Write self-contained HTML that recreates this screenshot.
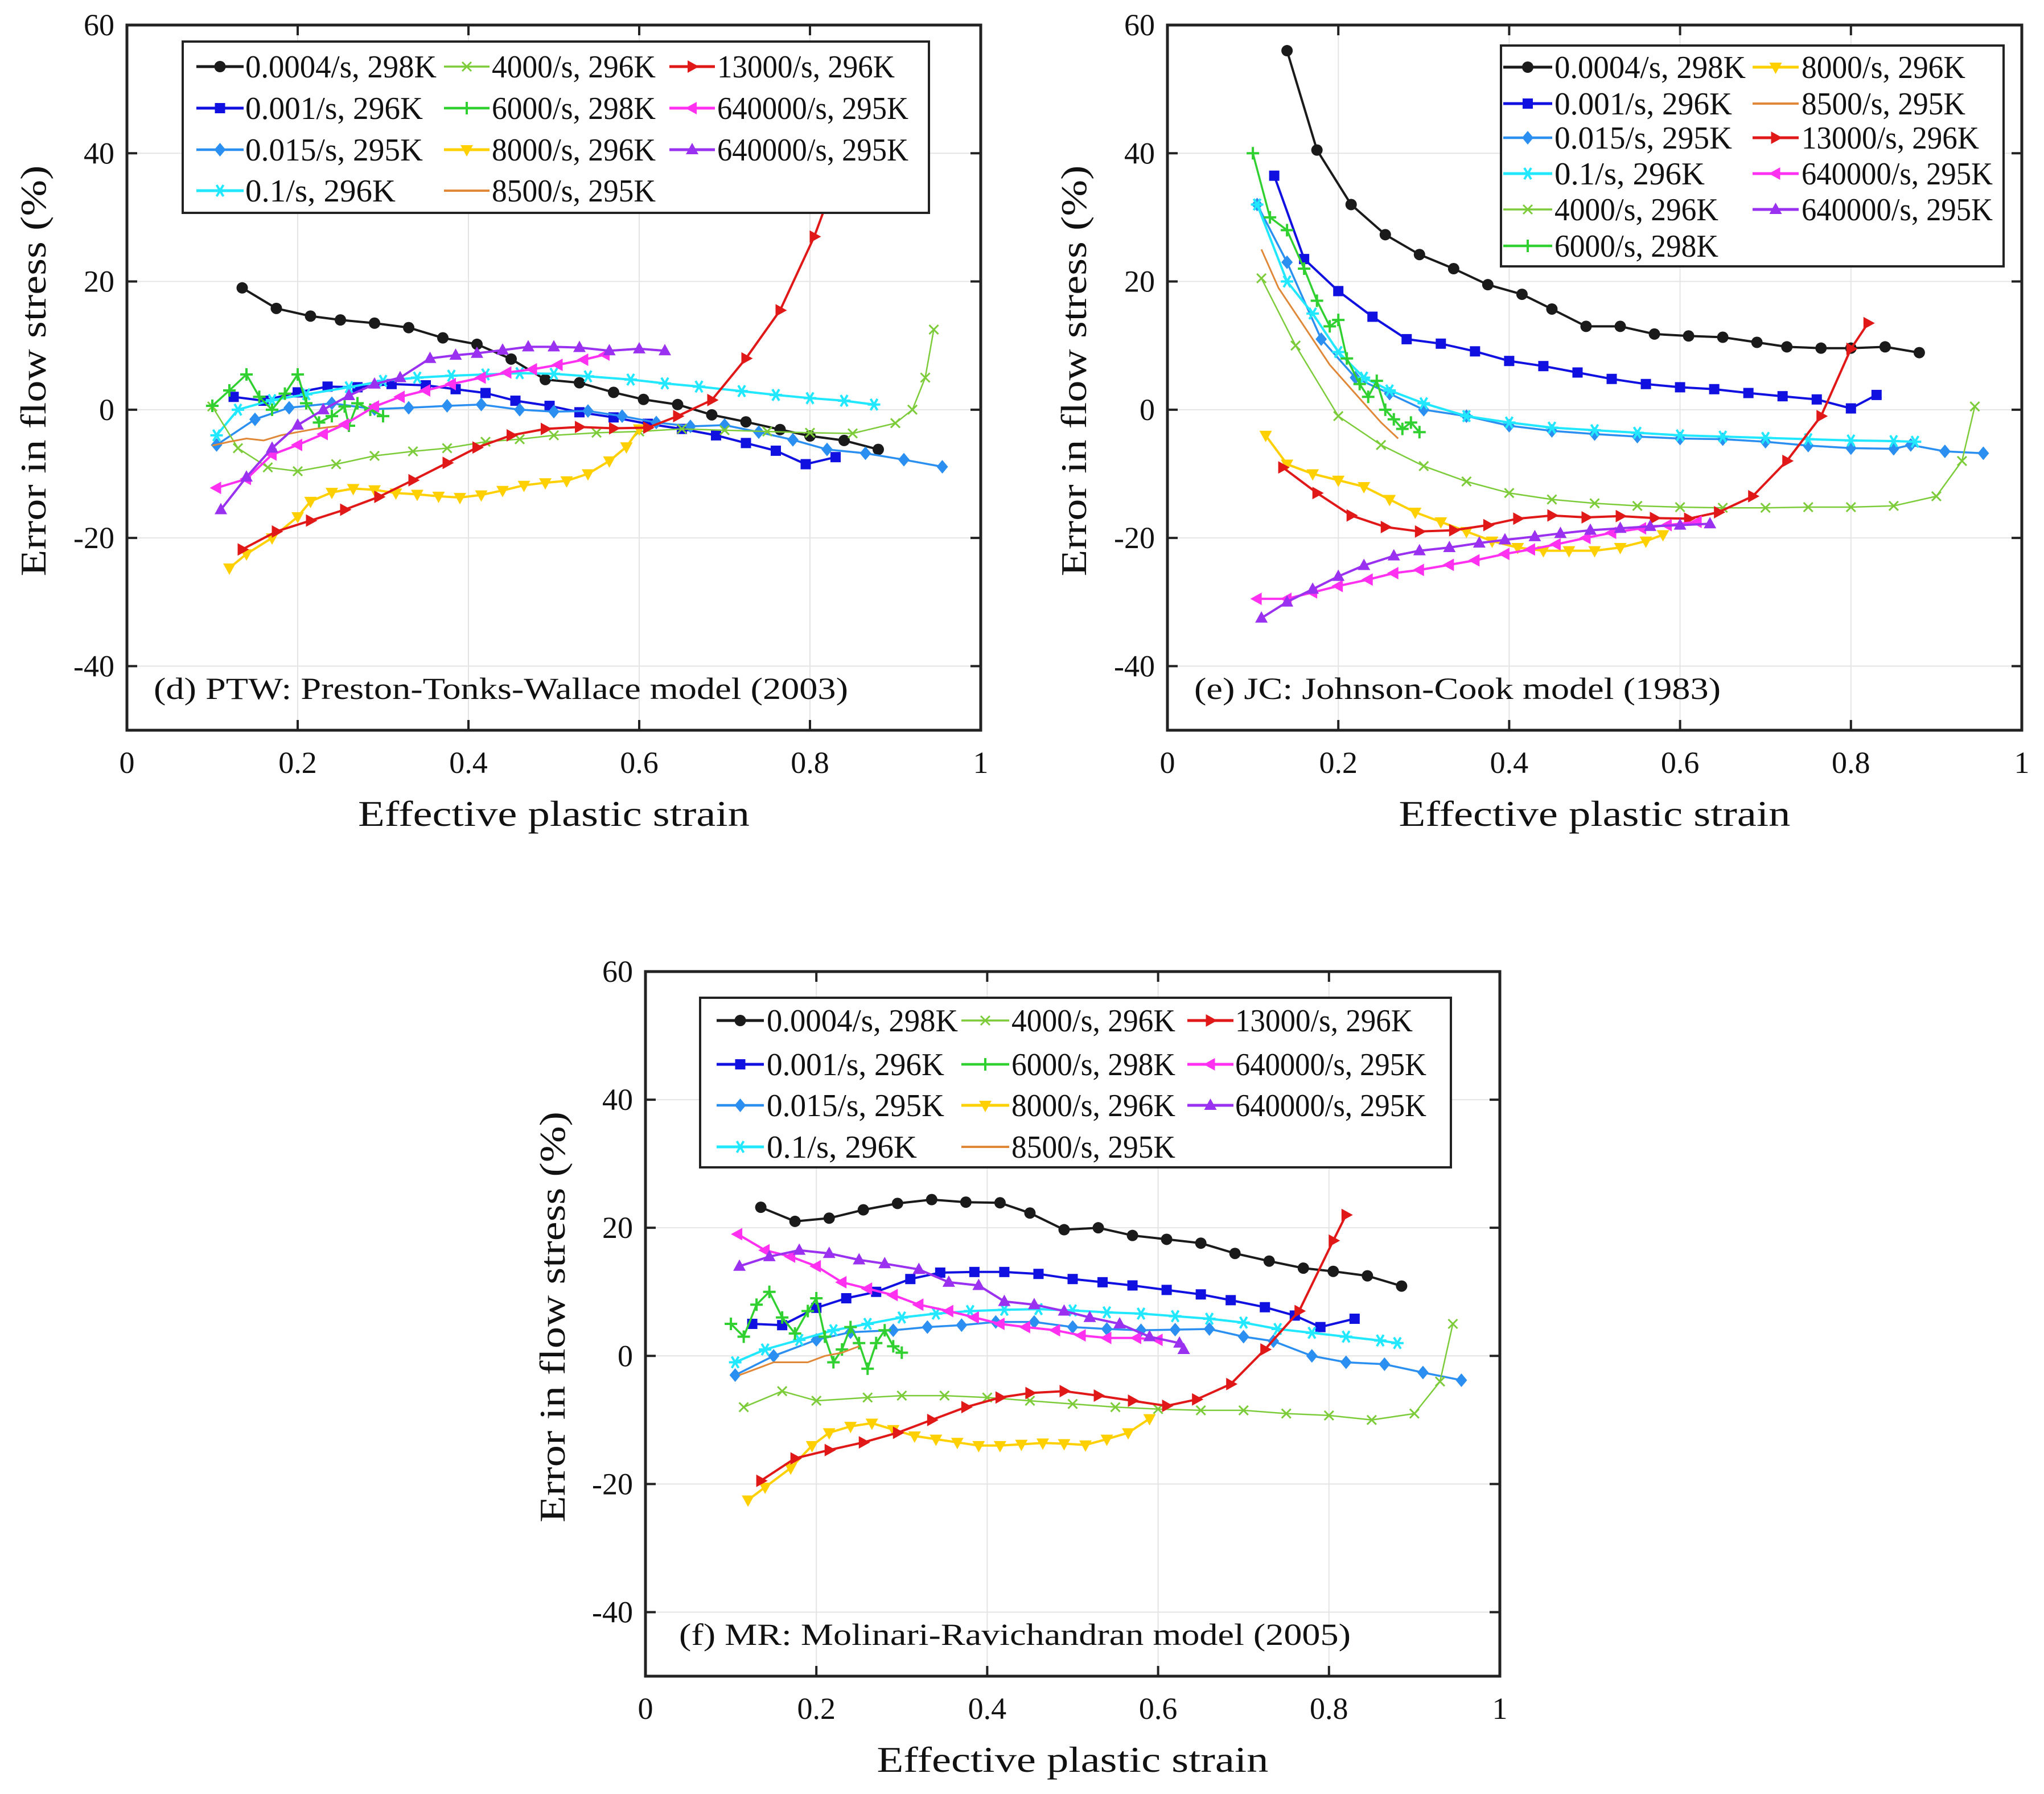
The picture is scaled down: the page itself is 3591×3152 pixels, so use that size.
<!DOCTYPE html>
<html><head><meta charset="utf-8">
<style>
html,body{margin:0;padding:0;background:#fff;}
svg{display:block;}
text{font-family:"Liberation Serif",serif;fill:#111;}
</style></head>
<body>
<svg id="fig" width="3591" height="3152" viewBox="0 0 3591 3152" xmlns="http://www.w3.org/2000/svg">
<rect width="3591" height="3152" fill="#fff"/>
</svg>
<script>
// ---- shared axis ticks ----
const xTicks = [0, 0.2, 0.4, 0.6, 0.8, 1];
const xTickLabels = ["0", "0.2", "0.4", "0.6", "0.8", "1"];
const yTicks = [-40, -20, 0, 20, 40, 60];
const yTickLabels = ["-40", "-20", "0", "20", "40", "60"];
const seriesNames = ["0.0004/s, 298K","0.001/s, 296K","0.015/s, 295K","0.1/s, 296K","4000/s, 296K","6000/s, 298K","8000/s, 296K","8500/s, 295K","13000/s, 296K","640000/s, 295K","640000/s, 295K"];

// ---- panel (d) PTW ----
const d_s0004 = [[0.135,19],[0.175,15.8],[0.215,14.6],[0.25,14],[0.29,13.5],[0.33,12.8],[0.37,11.2],[0.41,10.2],[0.45,7.9],[0.49,4.7],[0.53,4.2],[0.57,2.7],[0.605,1.6],[0.645,0.8],[0.685,-0.8],[0.725,-1.9],[0.765,-3.1],[0.8,-4.1],[0.84,-4.8],[0.88,-6.2]];
const d_s001 = [[0.125,2],[0.16,1.4],[0.2,2.7],[0.235,3.6],[0.27,3.5],[0.31,4],[0.35,3.8],[0.385,3.2],[0.42,2.6],[0.455,1.4],[0.495,0.6],[0.53,-0.4],[0.57,-1.2],[0.61,-2.2],[0.65,-3],[0.69,-4],[0.725,-5.2],[0.76,-6.4],[0.795,-8.5],[0.83,-7.4]];
const d_s015 = [[0.105,-5.5],[0.15,-1.5],[0.19,0.3],[0.24,1],[0.29,0.1],[0.33,0.3],[0.375,0.6],[0.415,0.8],[0.46,0],[0.5,-0.3],[0.54,-0.2],[0.58,-1],[0.62,-2],[0.66,-2.6],[0.7,-2.4],[0.74,-3.5],[0.78,-4.7],[0.82,-6.2],[0.865,-6.8],[0.91,-7.8],[0.955,-8.9]];
const d_s1 = [[0.105,-4],[0.13,0],[0.17,1.5],[0.21,2.4],[0.26,3.5],[0.3,4.5],[0.34,5],[0.38,5.3],[0.42,5.5],[0.46,5.7],[0.5,5.6],[0.54,5.2],[0.59,4.7],[0.63,4.1],[0.67,3.6],[0.72,2.9],[0.76,2.3],[0.8,1.8],[0.84,1.4],[0.875,0.8]];
const d_s4000 = [[0.1,0.5],[0.13,-6],[0.165,-9],[0.2,-9.6],[0.245,-8.5],[0.29,-7.2],[0.335,-6.5],[0.375,-6],[0.42,-5],[0.46,-4.6],[0.5,-4],[0.55,-3.6],[0.6,-3.4],[0.65,-3],[0.7,-3.2],[0.75,-3.4],[0.8,-3.6],[0.85,-3.7],[0.9,-2.1],[0.92,0],[0.935,5],[0.945,12.5]];
const d_s6000 = [[0.1,0.6],[0.12,3],[0.14,5.5],[0.155,2],[0.17,0],[0.185,2.5],[0.2,5.5],[0.21,1],[0.225,-2],[0.24,-1],[0.255,0.5],[0.26,-2.5],[0.27,1],[0.285,0],[0.3,-1]];
const d_s8000 = [[0.12,-24.7],[0.14,-22.5],[0.17,-20],[0.2,-16.7],[0.215,-14.3],[0.24,-12.9],[0.265,-12.3],[0.29,-12.5],[0.315,-13],[0.34,-13.2],[0.365,-13.5],[0.39,-13.7],[0.415,-13.3],[0.44,-12.6],[0.465,-11.8],[0.49,-11.4],[0.515,-11.1],[0.54,-10],[0.565,-8],[0.585,-5.8],[0.6,-3]];
const d_s8500 = [[0.1,-5.6],[0.12,-5],[0.14,-4.5],[0.16,-4.8],[0.18,-4],[0.2,-3.5],[0.22,-3],[0.25,-2.5]];
const d_s13000 = [[0.135,-21.8],[0.175,-19],[0.215,-17.3],[0.255,-15.6],[0.295,-13.6],[0.335,-11],[0.375,-8.3],[0.41,-5.9],[0.45,-4],[0.49,-3],[0.53,-2.7],[0.57,-2.9],[0.61,-2.8],[0.645,-1],[0.685,1.5],[0.725,8],[0.765,15.5],[0.805,27],[0.83,36]];
const d_s640a = [[0.105,-12.2],[0.14,-10.8],[0.17,-7],[0.2,-5.5],[0.23,-3.8],[0.255,-2.3],[0.29,0.5],[0.32,2],[0.35,3],[0.38,4],[0.415,5],[0.445,5.8],[0.475,6.3],[0.505,7],[0.535,7.8],[0.56,8.6]];
const d_s640b = [[0.11,-15.6],[0.14,-10.5],[0.17,-6],[0.2,-2.4],[0.23,0],[0.26,2.2],[0.29,4],[0.32,5],[0.355,8],[0.385,8.5],[0.41,8.8],[0.44,9.3],[0.47,9.8],[0.5,9.8],[0.53,9.7],[0.565,9.2],[0.6,9.5],[0.63,9.2]];

// ---- panel (e) JC ----
const e_s0004 = [[0.14,56],[0.175,40.5],[0.215,32],[0.255,27.3],[0.295,24.2],[0.335,22],[0.375,19.5],[0.415,18],[0.45,15.7],[0.49,13],[0.53,13],[0.57,11.8],[0.61,11.5],[0.65,11.3],[0.69,10.5],[0.725,9.8],[0.765,9.6],[0.8,9.6],[0.84,9.8],[0.88,8.9]];
const e_s001 = [[0.125,36.5],[0.16,23.5],[0.2,18.5],[0.24,14.5],[0.28,11],[0.32,10.3],[0.36,9.1],[0.4,7.6],[0.44,6.8],[0.48,5.8],[0.52,4.8],[0.56,4],[0.6,3.5],[0.64,3.2],[0.68,2.6],[0.72,2.1],[0.76,1.6],[0.8,0.2],[0.83,2.3]];
const e_s015 = [[0.105,32],[0.14,23],[0.18,11],[0.22,5],[0.26,2.5],[0.3,0],[0.35,-1],[0.4,-2.5],[0.45,-3.3],[0.5,-3.8],[0.55,-4.2],[0.6,-4.5],[0.65,-4.6],[0.7,-5],[0.75,-5.6],[0.8,-6],[0.85,-6.1],[0.87,-5.5],[0.91,-6.5],[0.955,-6.8]];
const e_s1 = [[0.105,32],[0.14,20],[0.17,15],[0.2,9],[0.23,5],[0.26,3],[0.3,1],[0.35,-1],[0.4,-2],[0.45,-2.8],[0.5,-3.2],[0.55,-3.6],[0.6,-4],[0.65,-4.2],[0.7,-4.4],[0.75,-4.6],[0.8,-4.8],[0.85,-4.9],[0.875,-5]];
const e_s4000 = [[0.11,20.5],[0.15,10],[0.2,-1],[0.25,-5.5],[0.3,-8.8],[0.35,-11.2],[0.4,-13],[0.45,-14],[0.5,-14.6],[0.55,-15],[0.6,-15.2],[0.65,-15.3],[0.7,-15.3],[0.75,-15.2],[0.8,-15.2],[0.85,-15],[0.9,-13.5],[0.93,-8],[0.945,0.5]];
const e_s6000 = [[0.1,40],[0.12,30],[0.14,28],[0.16,22],[0.175,17],[0.19,13],[0.2,14],[0.21,8],[0.225,4],[0.235,2],[0.245,4.5],[0.255,0],[0.265,-1.5],[0.275,-3],[0.285,-2],[0.295,-3.5]];
const e_s8000 = [[0.115,-4],[0.14,-8.5],[0.17,-10],[0.2,-11],[0.23,-12],[0.26,-14],[0.29,-16],[0.32,-17.5],[0.35,-19],[0.38,-20.5],[0.41,-21.5],[0.44,-22],[0.47,-22],[0.5,-22],[0.53,-21.5],[0.56,-20.5],[0.58,-19.5]];
const e_s8500 = [[0.11,25],[0.13,19],[0.15,15],[0.17,11],[0.19,7],[0.21,4],[0.23,1],[0.25,-2],[0.27,-4.5]];
const e_s13000 = [[0.135,-9],[0.175,-13],[0.215,-16.5],[0.255,-18.3],[0.295,-19],[0.335,-18.8],[0.375,-18],[0.41,-17],[0.45,-16.5],[0.49,-16.8],[0.53,-16.6],[0.57,-16.9],[0.61,-17],[0.645,-16],[0.685,-13.5],[0.725,-8],[0.765,-1],[0.8,9.5],[0.82,13.5]];
const e_s640a = [[0.105,-29.5],[0.14,-29.5],[0.17,-28.5],[0.2,-27.5],[0.235,-26.5],[0.265,-25.5],[0.295,-25],[0.33,-24.2],[0.36,-23.5],[0.395,-22.5],[0.425,-21.8],[0.455,-21],[0.49,-20],[0.52,-19.2],[0.555,-18.5],[0.585,-18],[0.62,-17.5]];
const e_s640b = [[0.11,-32.5],[0.14,-30],[0.17,-28],[0.2,-26],[0.23,-24.3],[0.265,-22.8],[0.295,-22],[0.33,-21.5],[0.365,-20.8],[0.395,-20.3],[0.43,-19.8],[0.46,-19.3],[0.495,-18.8],[0.53,-18.5],[0.565,-18.2],[0.6,-18],[0.635,-17.8]];

// ---- panel (f) MR ----
const f_s0004 = [[0.135,23.2],[0.175,21],[0.215,21.5],[0.255,22.8],[0.295,23.8],[0.335,24.4],[0.375,24],[0.415,23.9],[0.45,22.3],[0.49,19.7],[0.53,20],[0.57,18.8],[0.61,18.2],[0.65,17.6],[0.69,16],[0.73,14.8],[0.77,13.7],[0.805,13.2],[0.845,12.5],[0.885,10.9]];
const f_s001 = [[0.125,5],[0.16,4.8],[0.2,7.5],[0.235,9],[0.27,10],[0.31,12],[0.345,13],[0.385,13.1],[0.42,13.1],[0.46,12.8],[0.5,12],[0.535,11.5],[0.57,11],[0.61,10.3],[0.65,9.6],[0.685,8.7],[0.725,7.6],[0.76,6.3],[0.79,4.5],[0.83,5.8]];
const f_s015 = [[0.105,-3],[0.15,0],[0.2,2.5],[0.24,3.7],[0.29,4],[0.33,4.5],[0.37,4.8],[0.41,5.3],[0.455,5.3],[0.5,4.5],[0.54,4.2],[0.58,4],[0.62,4.1],[0.66,4.2],[0.7,3],[0.735,2.3],[0.78,0],[0.82,-1],[0.865,-1.3],[0.91,-2.6],[0.955,-3.8]];
const f_s1 = [[0.105,-1],[0.14,1],[0.18,2.5],[0.22,4],[0.26,5],[0.3,6],[0.34,6.6],[0.38,7],[0.42,7.2],[0.46,7.3],[0.5,7.1],[0.54,6.8],[0.58,6.6],[0.62,6.2],[0.66,5.8],[0.7,5.2],[0.74,4.2],[0.78,3.6],[0.82,3],[0.86,2.4],[0.88,2]];
const f_s4000 = [[0.115,-8],[0.16,-5.5],[0.2,-7],[0.26,-6.5],[0.3,-6.2],[0.35,-6.2],[0.4,-6.5],[0.45,-7],[0.5,-7.5],[0.55,-8],[0.6,-8.3],[0.65,-8.5],[0.7,-8.5],[0.75,-9],[0.8,-9.3],[0.85,-10],[0.9,-9],[0.93,-4],[0.945,5]];
const f_s6000 = [[0.1,5],[0.115,3],[0.13,8],[0.145,10],[0.16,6],[0.175,3.5],[0.19,7],[0.2,9],[0.21,3],[0.22,-1],[0.23,1],[0.24,4.5],[0.25,2],[0.26,-2],[0.27,2],[0.28,4],[0.29,1.5],[0.3,0.5]];
const f_s8000 = [[0.12,-22.5],[0.14,-20.5],[0.17,-17.5],[0.195,-14],[0.215,-12],[0.24,-11],[0.265,-10.5],[0.29,-11.5],[0.315,-12.5],[0.34,-13],[0.365,-13.5],[0.39,-14],[0.415,-14],[0.44,-13.8],[0.465,-13.6],[0.49,-13.7],[0.515,-13.9],[0.54,-13],[0.565,-12],[0.59,-9.8]];
const f_s8500 = [[0.11,-3],[0.13,-2],[0.15,-1],[0.17,-1],[0.19,-1],[0.21,0],[0.23,0.5],[0.25,1.5]];
const f_s13000 = [[0.135,-19.5],[0.175,-16],[0.215,-14.7],[0.255,-13.5],[0.295,-12],[0.335,-10],[0.375,-8],[0.415,-6.5],[0.45,-5.8],[0.49,-5.5],[0.53,-6.2],[0.57,-7],[0.61,-7.8],[0.645,-6.8],[0.685,-4.4],[0.725,1],[0.765,7],[0.805,18],[0.82,22]];
const f_s640a = [[0.108,19],[0.14,16.5],[0.17,15.5],[0.2,14],[0.23,11.5],[0.26,10.5],[0.29,9.5],[0.32,8],[0.355,7],[0.385,6],[0.415,5],[0.445,4.5],[0.48,4],[0.51,3.2],[0.54,2.8],[0.575,2.8],[0.6,2.5]];
const f_s640b = [[0.11,14],[0.145,15.5],[0.18,16.5],[0.215,16],[0.25,15],[0.28,14.4],[0.32,13.5],[0.355,11.5],[0.39,11],[0.42,8.5],[0.455,8],[0.49,7],[0.52,6],[0.555,5],[0.59,3],[0.625,2],[0.63,1]];

const styles = [
 {c:"#1a1a1a", m:"circle", w:4},
 {c:"#1010e0", m:"square", w:4},
 {c:"#2a8ff0", m:"diamond", w:3.5},
 {c:"#22e8ff", m:"star", w:4},
 {c:"#7ccc3a", m:"x", w:2.5},
 {c:"#30d030", m:"plus", w:3.5},
 {c:"#ffd000", m:"tdown", w:4},
 {c:"#e08838", m:"none", w:3},
 {c:"#e01818", m:"tright", w:4},
 {c:"#ff30f0", m:"tleft", w:4},
 {c:"#9a30f0", m:"tup", w:4}
];
const keys = ["s0004","s001","s015","s1","s4000","s6000","s8000","s8500","s13000","s640a","s640b"];

const panels = [
 {id:"d", X0:223, X1:1723, Y0:44, Y1:1283, yTitleX:60,
  data:[d_s0004,d_s001,d_s015,d_s1,d_s4000,d_s6000,d_s8000,d_s8500,d_s13000,d_s640a,d_s640b],
  note:"(d) PTW: Preston-Tonks-Wallace model (2003)", noteX:270, noteY:1228, noteW:1220,
  box:[321,73,1311,301],
  cols:[[345,428,431],[780,860,864],[1176,1256,1260]], rows:[117,190,263,335],
  layout:[[0,0],[0,1],[0,2],[0,3],[1,0],[1,1],[1,2],[1,3],[2,0],[2,1],[2,2]]},
 {id:"e", X0:2051, X1:3552, Y0:44, Y1:1283, yTitleX:1888,
  data:[e_s0004,e_s001,e_s015,e_s1,e_s4000,e_s6000,e_s8000,e_s8500,e_s13000,e_s640a,e_s640b],
  note:"(e) JC: Johnson-Cook model (1983)", noteX:2098, noteY:1228, noteW:925,
  box:[2637,80,883,388],
  cols:[[2641,2727,2731],[3079,3160,3165]], rows:[118,182,242,305,368,432],
  layout:[[0,0],[0,1],[0,2],[0,3],[0,4],[0,5],[1,0],[1,1],[1,2],[1,3],[1,4]]},
 {id:"f", X0:1134, X1:2635, Y0:1707, Y1:2945, yTitleX:972,
  data:[f_s0004,f_s001,f_s015,f_s1,f_s4000,f_s6000,f_s8000,f_s8500,f_s13000,f_s640a,f_s640b],
  note:"(f) MR: Molinari-Ravichandran model (2005)", noteX:1193, noteY:2890, noteW:1180,
  box:[1230,1753,1319,298],
  cols:[[1259,1342,1347],[1689,1773,1777],[2086,2167,2170]], rows:[1793,1870,1942,2015],
  layout:[[0,0],[0,1],[0,2],[0,3],[1,0],[1,1],[1,2],[1,3],[2,0],[2,1],[2,2]]}
];

const NS = "http://www.w3.org/2000/svg";
const svg = document.getElementById("fig");
function mk(tag, attrs, parent){
  const e = document.createElementNS(NS, tag);
  for (const k in attrs) e.setAttribute(k, attrs[k]);
  (parent||svg).appendChild(e);
  return e;
}
function marker(g, type, x, y, c){
  const r = 10;
  let e = null;
  if (type === "circle") e = mk("circle",{cx:x,cy:y,r:r,fill:c},g);
  else if (type === "square") e = mk("rect",{x:x-r+1,y:y-r+1,width:2*r-2,height:2*r-2,fill:c},g);
  else if (type === "diamond") e = mk("polygon",{points:`${x},${y-r-2} ${x+r},${y} ${x},${y+r+2} ${x-r},${y}`,fill:c},g);
  else if (type === "tdown") e = mk("polygon",{points:`${x-r-1},${y-r+2} ${x+r+1},${y-r+2} ${x},${y+r+2}`,fill:c},g);
  else if (type === "tup") e = mk("polygon",{points:`${x-r-1},${y+r-2} ${x+r+1},${y+r-2} ${x},${y-r-2}`,fill:c},g);
  else if (type === "tright") e = mk("polygon",{points:`${x-r+2},${y-r-1} ${x-r+2},${y+r+1} ${x+r+2},${y}`,fill:c},g);
  else if (type === "tleft") e = mk("polygon",{points:`${x+r-2},${y-r-1} ${x+r-2},${y+r+1} ${x-r-2},${y}`,fill:c},g);
  else if (type === "x") e = mk("path",{d:`M${x-8},${y-8}L${x+8},${y+8}M${x-8},${y+8}L${x+8},${y-8}`,stroke:c,"stroke-width":3,fill:"none"},g);
  else if (type === "plus") e = mk("path",{d:`M${x-11},${y}L${x+11},${y}M${x},${y-11}L${x},${y+11}`,stroke:c,"stroke-width":4,fill:"none"},g);
  else if (type === "star") e = mk("path",{d:`M${x-11},${y}L${x+11},${y}M${x-6},${y-10}L${x+6},${y+10}M${x-6},${y+10}L${x+6},${y-10}`,stroke:c,"stroke-width":4,fill:"none"},g);
  if (e) {
    
    
  }
}

panels.forEach(p => {
  const sx = v => p.X0 + v*(p.X1-p.X0);
  const sy = v => p.Y1 - (v+50)/110*(p.Y1-p.Y0);
  const g = mk("g",{});
  
  
  const clip = mk("clipPath",{id:"clip"+p.id},g);
  mk("rect",{x:p.X0,y:p.Y0,width:p.X1-p.X0,height:p.Y1-p.Y0},clip);
  const grid = mk("g",{stroke:"#e4e4e4","stroke-width":2},g);
  
  
  xTicks.forEach(t => { if (t>0 && t<1) mk("line",{x1:sx(t),x2:sx(t),y1:p.Y0,y2:p.Y1},grid); });
  yTicks.forEach(t => { if (t<60) mk("line",{x1:p.X0,x2:p.X1,y1:sy(t),y2:sy(t)},grid); });
  const sg = mk("g",{"clip-path":`url(#clip${p.id})`},g);
  p.data.forEach((arr, i) => {
    const st = styles[i];
    const s = mk("g",{},sg);
    
    
    const pts = arr.map(d => sx(d[0]).toFixed(1)+","+sy(d[1]).toFixed(1)).join(" ");
    const pl = mk("polyline",{points:pts,fill:"none",stroke:st.c,"stroke-width":st.w,"stroke-linejoin":"round"},s);
    
    
    if (st.m !== "none") arr.forEach(d => marker(s, st.m, sx(d[0]), sy(d[1]), st.c));
  });
  const tk = mk("g",{stroke:"#222","stroke-width":4},g);
  
  
  xTicks.forEach(t => {
    mk("line",{x1:sx(t),x2:sx(t),y1:p.Y1,y2:p.Y1-18},tk);
    mk("line",{x1:sx(t),x2:sx(t),y1:p.Y0,y2:p.Y0+18},tk);
  });
  yTicks.forEach(t => {
    mk("line",{x1:p.X0,x2:p.X0+18,y1:sy(t),y2:sy(t)},tk);
    mk("line",{x1:p.X1,x2:p.X1-18,y1:sy(t),y2:sy(t)},tk);
  });
  xTicks.forEach((t,i) => {
    const tx = mk("text",{x:sx(t),y:p.Y1+75,"font-size":54,"text-anchor":"middle",fill:"#333"},g);
    tx.textContent = xTickLabels[i];
    
    
  });
  yTicks.forEach((t,i) => {
    const tx = mk("text",{x:p.X0-22,y:sy(t)+18,"font-size":54,"text-anchor":"end",fill:"#333"},g);
    tx.textContent = yTickLabels[i];
    
    
  });
  const xt = mk("text",{x:(p.X0+p.X1)/2,y:p.Y1+168,"font-size":64,"text-anchor":"middle",textLength:688,lengthAdjust:"spacingAndGlyphs"},g);
  xt.textContent = "Effective plastic strain";
  
  
  const cy = (p.Y0+p.Y1)/2 - 12;
  const yt = mk("text",{x:p.yTitleX,y:cy,"font-size":64,"text-anchor":"middle",transform:`rotate(-90 ${p.yTitleX} ${cy})`,dy:20,textLength:722,lengthAdjust:"spacingAndGlyphs"},g);
  yt.textContent = "Error in flow stress (%)";
  
  
  const nt = mk("text",{x:p.noteX,y:p.noteY,"font-size":54,textLength:p.noteW,lengthAdjust:"spacingAndGlyphs"},g);
  nt.textContent = p.note;
  
  
  const lg = mk("g",{},g);
  
  
  mk("rect",{x:p.box[0],y:p.box[1],width:p.box[2],height:p.box[3],fill:"#fff",stroke:"#222","stroke-width":4},lg);
  p.layout.forEach((cr, i) => {
    const st = styles[i];
    const col = p.cols[cr[0]], y = p.rows[cr[1]];
    const le = mk("g",{},lg);
    
    
    mk("line",{x1:col[0],x2:col[1],y1:y,y2:y,stroke:st.c,"stroke-width":st.w+1},le);
    if (st.m !== "none") marker(le, st.m, (col[0]+col[1])/2, y, st.c);
    const label = seriesNames[i];
    const t = mk("text",{x:col[2],y:y+19,"font-size":56,textLength:label.length*24,lengthAdjust:"spacingAndGlyphs"},le);
    t.textContent = label;
  });
  const fr = mk("rect",{x:p.X0,y:p.Y0,width:p.X1-p.X0,height:p.Y1-p.Y0,fill:"none",stroke:"#222","stroke-width":5},g);
  
  
});
</script>
</body></html>
